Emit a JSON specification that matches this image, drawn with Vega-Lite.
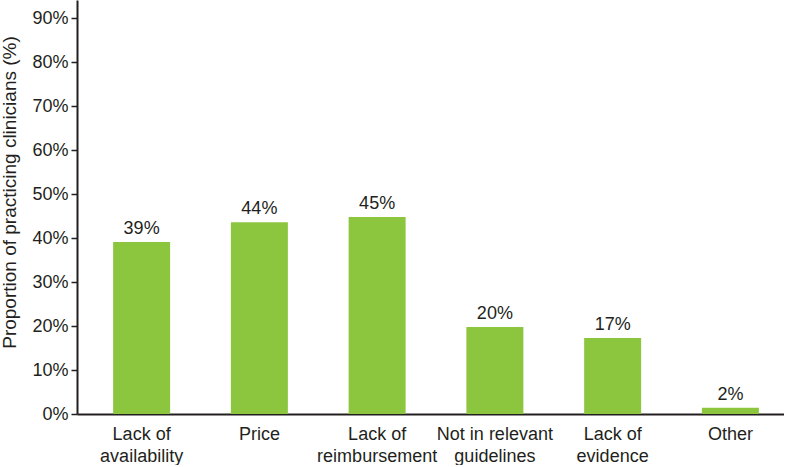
{
  "$schema": "https://vega.github.io/schema/vega-lite/v6.json",
  "width": 707,
  "height": 414,
  "padding": {"left": 0, "top": 0, "right": 0, "bottom": 0},
  "background": "white",
  "config": {
    "font": "Liberation Sans",
    "view": {"stroke": null}
  },
  "data": {
    "values": [
      {"barrier": "Lack of availability", "pct": 39.1, "label": "39%"},
      {"barrier": "Price", "pct": 43.6, "label": "44%"},
      {"barrier": "Lack of reimbursement", "pct": 44.8, "label": "45%"},
      {"barrier": "Not in relevant guidelines", "pct": 19.8, "label": "20%"},
      {"barrier": "Lack of evidence", "pct": 17.3, "label": "17%"},
      {"barrier": "Other", "pct": 1.4, "label": "2%"}
    ]
  },
  "encoding": {
    "x": {
      "field": "barrier",
      "type": "nominal",
      "sort": null,
      "scale": {"paddingInner": 0.516, "paddingOuter": 0.26, "align": 0.59},
      "axis": {
        "title": null,
        "labelAngle": 0,
        "labelFontSize": 18,
        "labelColor": "#231f20",
        "labelPadding": 11,
        "labelLineHeight": 22,
        "ticks": false,
        "domainColor": "#231f20",
        "domainWidth": 2,
        "labelExpr": "datum.value == 'Lack of availability' ? ['Lack of', 'availability'] : datum.value == 'Lack of reimbursement' ? ['Lack of', 'reimbursement'] : datum.value == 'Not in relevant guidelines' ? ['Not in relevant', 'guidelines'] : datum.value == 'Lack of evidence' ? ['Lack of', 'evidence'] : datum.value"
      }
    },
    "y": {
      "field": "pct",
      "type": "quantitative",
      "scale": {"domain": [0, 94.1], "nice": false},
      "axis": {
        "title": "Proportion of practicing clinicians (%)",
        "titleFontSize": 19,
        "titleFontWeight": "normal",
        "titleColor": "#231f20",
        "titleY": 192,
        "values": [0, 10, 20, 30, 40, 50, 60, 70, 80, 90],
        "labelExpr": "datum.value + '%'",
        "labelFontSize": 18,
        "labelColor": "#231f20",
        "labelPadding": 3,
        "tickSize": 6,
        "tickColor": "#231f20",
        "tickWidth": 1.5,
        "domainColor": "#231f20",
        "domainWidth": 2,
        "grid": false,
        "titlePadding": 12
      }
    }
  },
  "layer": [
    {"mark": {"type": "bar", "color": "#8cc63f"}},
    {
      "mark": {"type": "text", "dy": -8, "baseline": "alphabetic", "fontSize": 18, "color": "#231f20"},
      "encoding": {"text": {"field": "label"}}
    }
  ]
}
